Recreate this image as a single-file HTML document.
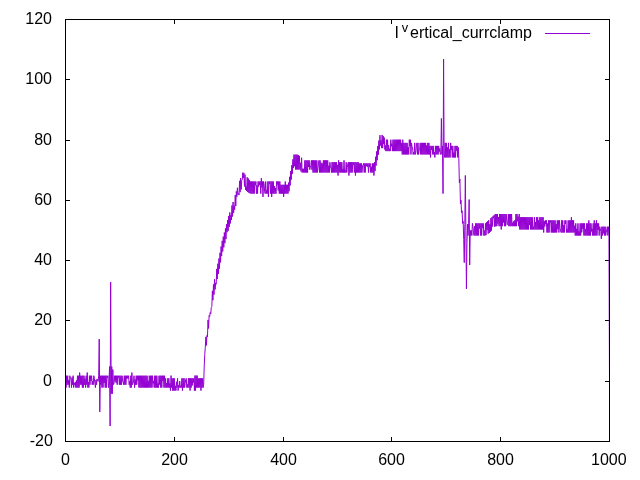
<!DOCTYPE html>
<html><head><meta charset="utf-8"><title>plot</title>
<style>
html,body{margin:0;padding:0;background:#fff;}
body{width:640px;height:480px;overflow:hidden;font-family:"Liberation Sans",sans-serif;}
svg{display:block;will-change:transform;}
</style></head><body>
<svg width="640" height="480" viewBox="0 0 640 480">
<rect width="640" height="480" fill="#fff"/>
<path d="M65.5 441.5h4.5M609.5 441.5h-4.5M65.5 381.5h4.5M609.5 381.5h-4.5M65.5 320.5h4.5M609.5 320.5h-4.5M65.5 260.5h4.5M609.5 260.5h-4.5M65.5 200.5h4.5M609.5 200.5h-4.5M65.5 140.5h4.5M609.5 140.5h-4.5M65.5 79.5h4.5M609.5 79.5h-4.5M65.5 19.5h4.5M609.5 19.5h-4.5M65.5 441.5v-4.5M65.5 19.5v4.5M174.5 441.5v-4.5M174.5 19.5v4.5M283.5 441.5v-4.5M283.5 19.5v4.5M391.5 441.5v-4.5M391.5 19.5v4.5M500.5 441.5v-4.5M500.5 19.5v4.5M609.5 441.5v-4.5M609.5 19.5v4.5" stroke="#000" stroke-width="1" fill="none"/>
<g font-family="'Liberation Sans', sans-serif" font-size="16" fill="#000">
<text x="52.85" y="445.90" text-anchor="end">-20</text>
<text x="52.00" y="385.90" text-anchor="end">0</text>
<text x="52.00" y="324.90" text-anchor="end">20</text>
<text x="52.00" y="264.90" text-anchor="end">40</text>
<text x="52.00" y="204.90" text-anchor="end">60</text>
<text x="52.00" y="144.90" text-anchor="end">80</text>
<text x="52.00" y="83.90" text-anchor="end">100</text>
<text x="52.00" y="23.90" text-anchor="end">120</text>
<text x="65.50" y="464.6" text-anchor="middle">0</text>
<text x="174.50" y="464.6" text-anchor="middle">200</text>
<text x="283.50" y="464.6" text-anchor="middle">400</text>
<text x="391.50" y="464.6" text-anchor="middle">600</text>
<text x="500.50" y="464.6" text-anchor="middle">800</text>
<text x="608.80" y="464.6" text-anchor="middle">1000</text>
<text x="394.60" y="38.20">I</text>
<text x="401.80" y="32.00" font-size="12.8">v</text>
<text x="531.90" y="38.20" text-anchor="end">ertical_currclamp</text>
</g>
<path d="M545 33.5H590" stroke="#9400d3" stroke-width="1" fill="none"/>
<polyline points="65.50,375.91 66.04,387.59 66.59,375.71 67.13,384.73 67.68,375.71 68.22,384.73 68.76,380.22 69.31,387.59 69.85,375.71 70.40,378.51 70.94,378.68 71.48,387.59 72.03,377.48 72.57,384.73 73.12,375.71 73.66,387.59 74.20,383.11 74.75,384.73 75.29,382.09 75.84,387.59 76.38,380.49 76.92,387.59 77.47,375.71 78.01,387.59 78.56,375.71 79.10,387.59 79.64,372.57 80.19,384.73 80.73,375.71 81.28,384.73 81.82,375.71 82.36,387.59 82.91,375.71 83.45,387.59 84.00,375.71 84.54,384.73 85.08,378.73 85.63,387.59 86.17,375.71 86.72,384.73 87.26,372.57 87.80,387.59 88.35,381.98 88.89,387.59 89.44,375.71 89.98,384.73 90.52,375.71 91.07,380.91 91.61,375.71 92.16,384.73 92.70,381.26 93.24,384.73 93.79,375.71 94.33,378.18 94.88,383.05 95.42,387.59 95.96,379.94 96.51,384.73 97.05,378.93 97.60,380.49 98.14,381.45 98.68,375.91 99.23,339.12 99.77,411.86 100.32,375.71 100.86,384.73 101.40,375.71 101.95,387.59 102.49,375.71 103.04,387.59 103.58,375.71 104.12,383.00 104.67,375.71 105.21,387.59 105.76,375.71 106.30,387.59 106.84,375.71 107.39,377.77 107.93,375.71 108.48,387.59 109.02,384.23 109.56,366.55 110.11,426.02 110.65,282.15 111.20,393.77 111.74,366.55 112.28,393.77 112.83,369.56 113.37,384.73 113.92,384.23 114.46,375.71 115.00,381.55 115.55,375.71 116.09,382.77 116.64,375.71 117.18,384.73 117.72,375.71 118.27,377.47 118.81,375.71 119.36,384.73 119.90,375.71 120.44,384.73 120.99,375.71 121.53,384.73 122.08,375.71 122.62,380.94 123.16,382.07 123.71,384.73 124.25,375.71 124.80,384.73 125.34,375.71 125.88,384.73 126.43,375.71 126.97,378.81 127.52,375.71 128.06,378.27 128.60,375.71 129.15,384.73 129.69,381.09 130.24,387.59 130.78,375.71 131.32,387.59 131.87,372.57 132.41,384.73 132.96,383.19 133.50,382.04 134.04,375.71 134.59,387.59 135.13,379.49 135.68,384.73 136.22,375.71 136.76,384.73 137.31,375.71 137.85,380.42 138.40,375.71 138.94,387.59 139.48,375.71 140.03,387.59 140.57,375.71 141.12,387.59 141.66,375.71 142.20,387.59 142.75,375.71 143.29,387.59 143.84,375.71 144.38,387.59 144.92,375.71 145.47,387.59 146.01,375.71 146.56,387.59 147.10,375.71 147.64,387.59 148.19,380.77 148.73,387.59 149.28,375.71 149.82,387.59 150.36,375.71 150.91,387.59 151.45,375.71 152.00,387.59 152.54,375.71 153.08,383.40 153.63,381.07 154.17,387.59 154.72,375.71 155.26,387.59 155.80,375.71 156.35,387.59 156.89,375.71 157.44,387.59 157.98,383.42 158.52,387.59 159.07,375.71 159.61,384.62 160.16,375.71 160.70,387.59 161.24,375.71 161.79,387.59 162.33,375.71 162.88,380.90 163.42,375.71 163.96,387.59 164.51,375.71 165.05,387.59 165.60,378.30 166.14,387.59 166.68,383.05 167.23,387.59 167.77,378.30 168.32,387.59 168.86,378.30 169.40,387.59 169.95,383.32 170.49,390.61 171.04,375.59 171.58,387.59 172.12,378.30 172.67,390.61 173.21,378.30 173.76,390.61 174.30,378.30 174.84,390.61 175.39,385.84 175.93,390.61 176.48,381.77 177.02,387.59 177.56,378.30 178.11,390.61 178.65,385.22 179.20,387.59 179.74,381.04 180.28,387.59 180.83,385.75 181.37,387.59 181.92,378.30 182.46,390.61 183.00,378.30 183.55,387.59 184.09,378.30 184.64,387.59 185.18,383.38 185.72,379.43 186.27,378.30 186.81,387.59 187.36,384.40 187.90,387.59 188.44,378.30 188.99,387.59 189.53,378.30 190.08,390.61 190.62,378.30 191.16,387.59 191.71,378.30 192.25,385.47 192.80,378.30 193.34,382.59 193.88,378.30 194.43,390.61 194.97,375.59 195.52,390.61 196.06,375.59 196.60,387.59 197.15,375.59 197.69,387.59 198.24,378.30 198.78,387.59 199.32,378.30 199.87,387.59 200.41,378.30 200.96,390.61 201.50,378.30 202.04,387.59 202.59,378.30 203.13,387.59 203.68,384.23 204.22,366.14 204.76,354.52 205.31,347.32 205.85,336.86 206.40,345.38 206.94,335.52 207.48,336.91 208.03,319.92 208.57,328.44 209.12,315.47 209.66,316.46 210.20,312.44 210.75,313.78 211.29,307.43 211.84,306.50 212.38,290.85 212.92,300.22 213.47,284.47 214.01,294.63 214.56,279.28 215.10,289.44 215.64,283.07 216.19,284.25 216.73,268.90 217.28,279.06 217.82,263.71 218.36,273.87 218.91,258.52 219.45,268.68 220.00,252.77 220.54,262.38 221.08,246.47 221.63,256.07 222.17,240.81 222.72,251.50 223.26,236.67 223.80,247.35 224.35,232.52 224.89,243.21 225.44,228.38 225.98,239.06 226.52,224.23 227.07,232.25 227.61,220.09 228.16,230.77 228.70,215.94 229.24,226.90 229.79,212.42 230.33,223.44 230.88,215.26 231.42,219.98 231.96,205.49 232.51,216.52 233.05,202.03 233.60,213.06 234.14,205.76 234.68,209.60 235.23,195.03 235.77,205.97 236.32,191.39 236.86,196.70 237.40,187.76 237.95,194.43 238.49,193.34 239.04,195.07 239.58,180.81 240.12,192.20 240.67,178.07 241.21,189.46 241.76,180.21 242.30,179.67 242.84,172.59 243.39,177.60 243.93,172.95 244.48,186.39 245.02,174.61 245.56,190.01 246.11,186.45 246.65,190.97 247.20,177.25 247.74,191.93 248.28,178.45 248.83,192.72 249.37,179.96 249.92,193.32 250.46,181.47 251.00,193.62 251.55,181.47 252.09,193.62 252.64,181.47 253.18,193.62 253.72,181.47 254.27,193.62 254.81,181.47 255.36,185.23 255.90,181.47 256.44,193.62 256.99,185.11 257.53,193.62 258.08,181.47 258.62,186.54 259.16,181.47 259.71,184.93 260.25,181.47 260.80,193.62 261.34,178.15 261.88,187.37 262.43,181.47 262.97,196.94 263.52,181.47 264.06,183.38 264.60,191.68 265.15,193.62 265.69,181.47 266.24,193.62 266.78,190.30 267.32,193.62 267.87,181.47 268.41,196.94 268.96,181.47 269.50,183.81 270.04,181.47 270.59,193.62 271.13,181.47 271.68,196.94 272.22,181.47 272.76,193.62 273.31,181.47 273.85,193.62 274.40,186.16 274.94,193.62 275.48,188.14 276.03,193.62 276.57,181.47 277.12,184.64 277.66,181.47 278.20,190.48 278.75,181.47 279.29,193.62 279.84,181.47 280.38,193.62 280.92,184.78 281.47,193.62 282.01,184.78 282.56,193.62 283.10,184.78 283.64,196.94 284.19,184.78 284.73,193.62 285.28,181.47 285.82,193.62 286.36,184.78 286.91,193.62 287.45,184.78 288.00,193.62 288.54,182.67 289.08,191.31 289.63,176.83 290.17,185.47 290.72,170.99 291.26,179.63 291.80,165.15 292.35,173.79 292.89,159.31 293.44,167.94 293.98,154.64 294.52,166.29 295.07,154.64 295.61,169.51 296.16,154.64 296.70,169.51 297.24,154.64 297.79,169.51 298.33,155.07 298.88,169.51 299.42,155.91 299.96,169.51 300.51,162.89 301.05,171.52 301.60,157.75 302.14,172.52 302.68,168.80 303.23,172.52 303.77,168.67 304.32,172.52 304.86,160.37 305.40,172.52 305.95,160.37 306.49,172.52 307.04,160.37 307.58,172.52 308.12,160.37 308.67,167.01 309.21,160.37 309.76,169.67 310.30,167.09 310.84,165.69 311.39,160.37 311.93,169.79 312.48,160.37 313.02,172.52 313.56,160.37 314.11,172.52 314.65,160.37 315.20,172.52 315.74,160.37 316.28,172.52 316.83,160.37 317.37,172.52 317.92,168.91 318.46,162.97 319.00,160.37 319.55,172.52 320.09,160.37 320.64,172.52 321.18,162.75 321.72,172.52 322.27,163.42 322.81,172.52 323.36,160.37 323.90,172.52 324.44,160.37 324.99,172.52 325.53,160.37 326.08,172.52 326.62,160.37 327.16,172.52 327.71,160.37 328.25,172.52 328.80,165.67 329.34,172.52 329.88,162.18 330.43,166.91 330.97,168.07 331.52,172.52 332.06,162.18 332.60,172.52 333.15,162.18 333.69,172.52 334.24,162.18 334.78,172.52 335.32,162.18 335.87,172.52 336.41,162.18 336.96,172.52 337.50,164.83 338.04,175.54 338.59,160.37 339.13,172.52 339.68,162.18 340.22,172.52 340.76,162.18 341.31,172.52 341.85,162.18 342.40,172.52 342.94,169.18 343.48,172.52 344.03,160.37 344.57,172.52 345.12,170.45 345.66,172.52 346.20,162.18 346.75,172.52 347.29,167.40 347.84,163.93 348.38,162.18 348.92,175.54 349.47,162.18 350.01,172.52 350.56,162.18 351.10,172.52 351.64,162.18 352.19,172.52 352.73,162.18 353.28,164.65 353.82,162.18 354.36,172.52 354.91,162.18 355.45,175.54 356.00,162.18 356.54,172.52 357.08,162.18 357.63,172.52 358.17,162.18 358.72,172.52 359.26,163.38 359.80,172.52 360.35,163.38 360.89,172.52 361.44,163.38 361.98,172.52 362.52,166.01 363.07,164.92 363.61,163.38 364.16,172.52 364.70,163.38 365.24,172.52 365.79,163.38 366.33,166.19 366.88,163.38 367.42,166.72 367.96,163.38 368.51,172.52 369.05,163.38 369.60,167.04 370.14,163.38 370.68,172.52 371.23,166.79 371.77,172.52 372.32,163.38 372.86,172.52 373.40,163.38 373.95,175.54 374.49,162.18 375.04,171.03 375.58,156.77 376.12,165.62 376.67,151.37 377.21,160.22 377.76,145.97 378.30,154.82 378.84,140.57 379.39,149.42 379.93,135.16 380.48,145.47 381.02,140.32 381.56,148.11 382.11,134.93 382.65,148.11 383.20,136.01 383.74,144.11 384.28,137.60 384.83,149.61 385.37,145.48 385.92,151.12 386.46,139.69 387.00,151.12 387.55,139.69 388.09,151.12 388.64,145.24 389.18,151.12 389.72,148.73 390.27,151.12 390.81,139.69 391.36,146.23 391.90,143.75 392.44,151.12 392.99,139.69 393.53,151.12 394.08,139.69 394.62,151.12 395.16,139.69 395.71,151.12 396.25,139.69 396.80,151.12 397.34,139.69 397.88,151.12 398.43,139.69 398.97,151.12 399.52,139.69 400.06,151.12 400.60,139.69 401.15,151.12 401.69,142.89 402.24,154.44 402.78,139.69 403.32,154.44 403.87,142.89 404.41,154.44 404.96,142.89 405.50,154.44 406.04,142.89 406.59,154.44 407.13,142.89 407.68,154.44 408.22,147.02 408.76,154.44 409.31,139.69 409.85,146.22 410.40,139.69 410.94,154.44 411.48,142.89 412.03,146.51 412.57,147.93 413.12,154.44 413.66,152.18 414.20,154.44 414.75,142.89 415.29,154.44 415.84,152.03 416.38,145.82 416.92,142.89 417.47,154.44 418.01,142.89 418.56,154.44 419.10,150.72 419.64,149.92 420.19,142.89 420.73,154.44 421.28,142.89 421.82,154.44 422.36,142.89 422.91,154.44 423.45,142.89 424.00,154.44 424.54,142.89 425.08,154.44 425.63,142.89 426.17,154.44 426.72,145.45 427.26,154.44 427.80,142.89 428.35,154.44 428.89,142.89 429.44,154.44 429.98,145.90 430.52,157.45 431.07,145.90 431.61,149.98 432.16,145.90 432.70,154.44 433.24,145.90 433.79,154.44 434.33,152.09 434.88,157.45 435.42,145.90 435.96,154.44 436.51,145.90 437.05,154.44 437.60,145.90 438.14,154.44 438.68,145.90 439.23,151.61 439.77,148.45 440.32,154.44 440.86,153.94 441.40,118.47 441.95,154.44 442.49,145.90 443.04,193.62 443.58,59.09 444.12,153.94 444.67,157.45 445.21,142.89 445.76,157.45 446.30,142.89 446.84,157.45 447.39,147.34 447.93,157.45 448.48,142.89 449.02,157.45 449.56,149.35 450.11,157.45 450.65,142.89 451.20,150.01 451.74,145.90 452.28,157.45 452.83,145.90 453.37,157.45 453.92,152.67 454.46,157.45 455.00,145.90 455.55,157.45 456.09,145.90 456.64,150.55 457.18,145.90 457.72,157.45 458.27,147.41 458.81,158.16 459.36,182.77 459.90,179.06 460.44,203.87 460.99,200.16 461.53,212.91 462.08,210.71 462.62,223.46 463.16,221.26 463.71,239.54 464.25,262.65 464.80,224.47 465.34,175.44 465.88,230.50 466.43,288.87 466.97,242.56 467.52,224.27 468.06,235.52 468.60,223.57 469.15,199.55 469.69,265.06 470.24,230.30 470.78,235.52 471.32,230.45 471.87,235.52 472.41,223.37 472.96,226.53 473.50,232.88 474.04,235.52 474.59,226.29 475.13,235.52 475.68,223.37 476.22,235.52 476.76,223.37 477.31,235.52 477.85,223.37 478.40,235.52 478.94,223.37 479.48,228.43 480.03,223.37 480.57,235.52 481.12,223.37 481.66,235.52 482.20,223.37 482.75,227.87 483.29,223.37 483.84,235.52 484.38,230.65 484.92,235.52 485.47,223.37 486.01,235.14 486.56,222.31 487.10,230.06 487.64,221.26 488.19,233.64 488.73,220.20 489.28,232.88 489.82,224.22 490.36,231.87 490.91,218.12 491.45,230.61 492.00,217.10 492.54,226.47 493.08,216.07 493.63,218.13 494.17,215.05 494.72,226.81 495.26,214.02 495.80,226.18 496.35,214.02 496.89,226.18 497.44,214.02 497.98,223.67 498.52,217.08 499.07,226.18 499.61,214.02 500.16,226.18 500.70,214.02 501.24,229.49 501.79,214.02 502.33,226.18 502.88,214.02 503.42,222.48 503.96,214.02 504.51,226.18 505.05,214.02 505.60,226.18 506.14,214.02 506.68,219.76 507.23,224.77 507.77,223.28 508.32,214.02 508.86,226.18 509.40,214.02 509.95,226.18 510.49,214.02 511.04,226.18 511.58,214.02 512.12,226.18 512.67,222.73 513.21,226.18 513.76,221.23 514.30,226.18 514.84,220.16 515.39,226.18 515.93,214.02 516.48,226.18 517.02,214.02 517.56,221.25 518.11,216.64 518.65,226.18 519.20,214.02 519.74,229.49 520.28,217.19 520.83,229.49 521.37,217.19 521.92,229.49 522.46,217.19 523.00,229.49 523.55,217.19 524.09,229.49 524.64,217.19 525.18,229.49 525.72,217.19 526.27,229.49 526.81,217.19 527.36,229.49 527.90,217.19 528.44,229.49 528.99,217.19 529.53,224.94 530.08,217.19 530.62,229.49 531.16,217.19 531.71,229.49 532.25,217.19 532.80,229.49 533.34,226.62 533.88,229.49 534.43,217.19 534.97,229.49 535.52,221.99 536.06,229.49 536.60,217.19 537.15,229.49 537.69,217.19 538.24,229.49 538.78,220.23 539.32,229.49 539.87,217.19 540.41,229.49 540.96,217.19 541.50,229.49 542.04,217.19 542.59,229.49 543.13,217.19 543.68,232.51 544.22,221.20 544.76,226.51 545.31,220.35 545.85,224.15 546.40,220.35 546.94,232.51 547.48,223.48 548.03,232.51 548.57,220.35 549.12,232.51 549.66,220.35 550.20,222.45 550.75,220.35 551.29,232.51 551.84,220.35 552.38,232.51 552.92,220.35 553.47,232.51 554.01,220.35 554.56,232.51 555.10,220.35 555.64,232.51 556.19,223.94 556.73,232.51 557.28,220.35 557.82,229.25 558.36,220.35 558.91,232.51 559.45,220.35 560.00,228.76 560.54,230.01 561.08,232.51 561.63,220.35 562.17,232.51 562.72,220.35 563.26,232.51 563.80,225.08 564.35,232.51 564.89,220.35 565.44,223.99 565.98,220.35 566.52,232.51 567.07,229.21 567.61,232.51 568.16,220.35 568.70,232.51 569.24,220.35 569.79,232.51 570.33,220.35 570.88,232.51 571.42,217.19 571.96,232.51 572.51,220.35 573.05,232.51 573.60,220.35 574.14,232.51 574.68,225.79 575.23,235.52 575.77,223.37 576.32,235.52 576.86,228.87 577.40,235.52 577.95,223.37 578.49,235.52 579.04,231.39 579.58,235.52 580.12,223.37 580.67,235.52 581.21,223.37 581.76,232.40 582.30,223.37 582.84,228.91 583.39,223.37 583.93,235.52 584.48,223.37 585.02,235.52 585.56,229.22 586.11,235.52 586.65,223.37 587.20,235.52 587.74,223.37 588.28,235.52 588.83,220.35 589.37,235.52 589.92,223.37 590.46,235.52 591.00,223.37 591.55,231.46 592.09,228.80 592.64,235.52 593.18,223.37 593.72,235.52 594.27,220.35 594.81,235.52 595.36,223.37 595.90,235.52 596.44,220.35 596.99,235.52 597.53,223.37 598.08,230.00 598.62,223.37 599.16,235.52 599.71,226.68 600.25,228.56 600.80,231.38 601.34,238.84 601.88,226.68 602.43,235.52 602.97,226.68 603.52,233.37 604.06,226.68 604.60,235.52 605.15,226.68 605.69,235.52 606.24,232.44 606.78,229.49 607.32,226.68 607.87,235.52 608.41,226.68 608.96,235.02 609.50,381.21" fill="none" stroke="#9400d3" stroke-width="1" stroke-linejoin="miter" stroke-miterlimit="4"/>
<rect x="65.5" y="19.5" width="544.0" height="422.0" fill="none" stroke="#000" stroke-width="1"/>
</svg>
</body></html>
